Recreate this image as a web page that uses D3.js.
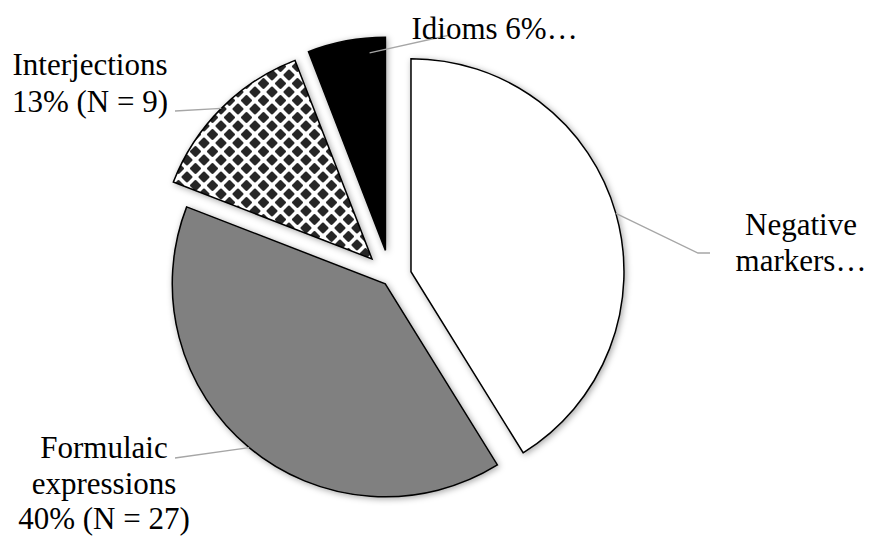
<!DOCTYPE html>
<html>
<head>
<meta charset="utf-8">
<script src="https://cdn.jsdelivr.net/npm/d3@7"></script>
<style>
  html, body { margin: 0; padding: 0; background: #fff; }
  svg { display: block; }
</style>
</head>
<body>
<script>
// ---- data ----
const categories = ["Negative markers", "Formulaic expressions", "Interjections", "Idioms"];
const counts = [28, 27, 9, 4];
const labelLines = [
  ["Negative", "markers…"],
  ["Formulaic", "expressions", "40% (N = 27)"],
  ["Interjections", "13% (N = 9)"],
  ["Idioms 6%…"]
];

// ---- layout / style ----
const W = 873, H = 536;
const FONT = "Liberation Serif";
const center = [390.5, 277.5];
const radius = 213;
const explode = [21.3, 8.2, 26.2, 27.6];
const fills = ["#ffffff", "#808080", "url(#diamonds)", "#000000"];
const labelLayout = [
  { x: 801, y: 235, anchor: "middle", leader: [[698, 253], [710, 253]], rf: 1, da: 0, lh: 35.5 },
  { x: 104, y: 458, anchor: "middle", leader: [[175, 458]], rf: 1, da: 0, lh: 35.5 },
  { x: 90, y: 75, anchor: "middle", leader: [[175, 111]], rf: 1, da: 0, lh: 36.5 },
  { x: 411.5, y: 39, anchor: "start", leader: [[450, 35]], rf: 0.93, da: 6, lh: 36 }
];

const svg = d3.select("body").append("svg").attr("width", W).attr("height", H);
const defs = svg.append("defs");

// diamond pattern
const P = 17;
const pat = defs.append("pattern").attr("id", "diamonds")
  .attr("patternUnits", "userSpaceOnUse").attr("width", P).attr("height", P)
  .attr("x", 2).attr("y", 3);
pat.append("rect").attr("width", P).attr("height", P).attr("fill", "#fff");
const dia = (cx, cy, a) => {
  const c = a * 0.25;
  return `M${cx - c},${cy - a + c}Q${cx},${cy - a - c * 0.4} ${cx + c},${cy - a + c}` +
    `L${cx + a - c},${cy - c}Q${cx + a + c * 0.4},${cy} ${cx + a - c},${cy + c}` +
    `L${cx + c},${cy + a - c}Q${cx},${cy + a + c * 0.4} ${cx - c},${cy + a - c}` +
    `L${cx - a + c},${cy + c}Q${cx - a - c * 0.4},${cy} ${cx - a + c},${cy - c}Z`;
};
[[0, 0], [P, 0], [0, P], [P, P], [P / 2, P / 2]].forEach(([cx, cy]) => {
  pat.append("path").attr("d", dia(cx, cy, 6.0)).attr("fill", "#262626");
});

// shadow filter
const f = defs.append("filter").attr("id", "shadow")
  .attr("x", "-20%").attr("y", "-20%").attr("width", "140%").attr("height", "140%");
f.append("feDropShadow").attr("dx", 1.5).attr("dy", 1.5).attr("stdDeviation", 3)
  .attr("flood-color", "#000").attr("flood-opacity", 0.35);

const pie = d3.pie().sort(null).value(d => d);
const arcs = pie(counts);
const arc = d3.arc().innerRadius(0).outerRadius(radius);

const g = svg.append("g").attr("transform", `translate(${center[0]},${center[1]})`);

function offsetOf(d, i) {
  const mid = (d.startAngle + d.endAngle) / 2;
  return [Math.sin(mid) * explode[i], -Math.cos(mid) * explode[i]];
}

g.selectAll("path.slice").data(arcs).join("path")
  .attr("class", "slice")
  .attr("d", arc)
  .attr("transform", (d, i) => { const o = offsetOf(d, i); return `translate(${o[0]},${o[1]})`; })
  .attr("fill", (d, i) => fills[i])
  .attr("stroke", "#000")
  .attr("stroke-width", 1.5)
  .attr("stroke-linejoin", "miter")
  .attr("filter", "url(#shadow)");

// leader lines
arcs.forEach((d, i) => {
  const L = labelLayout[i];
  const o = offsetOf(d, i);
  const mid = (d.startAngle + d.endAngle) / 2 + L.da * Math.PI / 180;
  const r = radius * L.rf;
  const sx = center[0] + o[0] + Math.sin(mid) * r;
  const sy = center[1] + o[1] - Math.cos(mid) * r;
  const pts = [[sx, sy]].concat(L.leader);
  svg.append("path")
    .attr("d", d3.line()(pts))
    .attr("fill", "none")
    .attr("stroke", "#a6a6a6")
    .attr("stroke-width", 1.3);
});

// labels
labelLines.forEach((lines, i) => {
  const L = labelLayout[i];
  const t = svg.append("text")
    .attr("text-anchor", L.anchor)
    .attr("font-family", FONT)
    .attr("font-size", 31)
    .attr("fill", "#000");
  lines.forEach((s, k) => {
    t.append("tspan").attr("x", L.x).attr("y", L.y + k * L.lh).text(s);
  });
});
</script>
</body>
</html>
